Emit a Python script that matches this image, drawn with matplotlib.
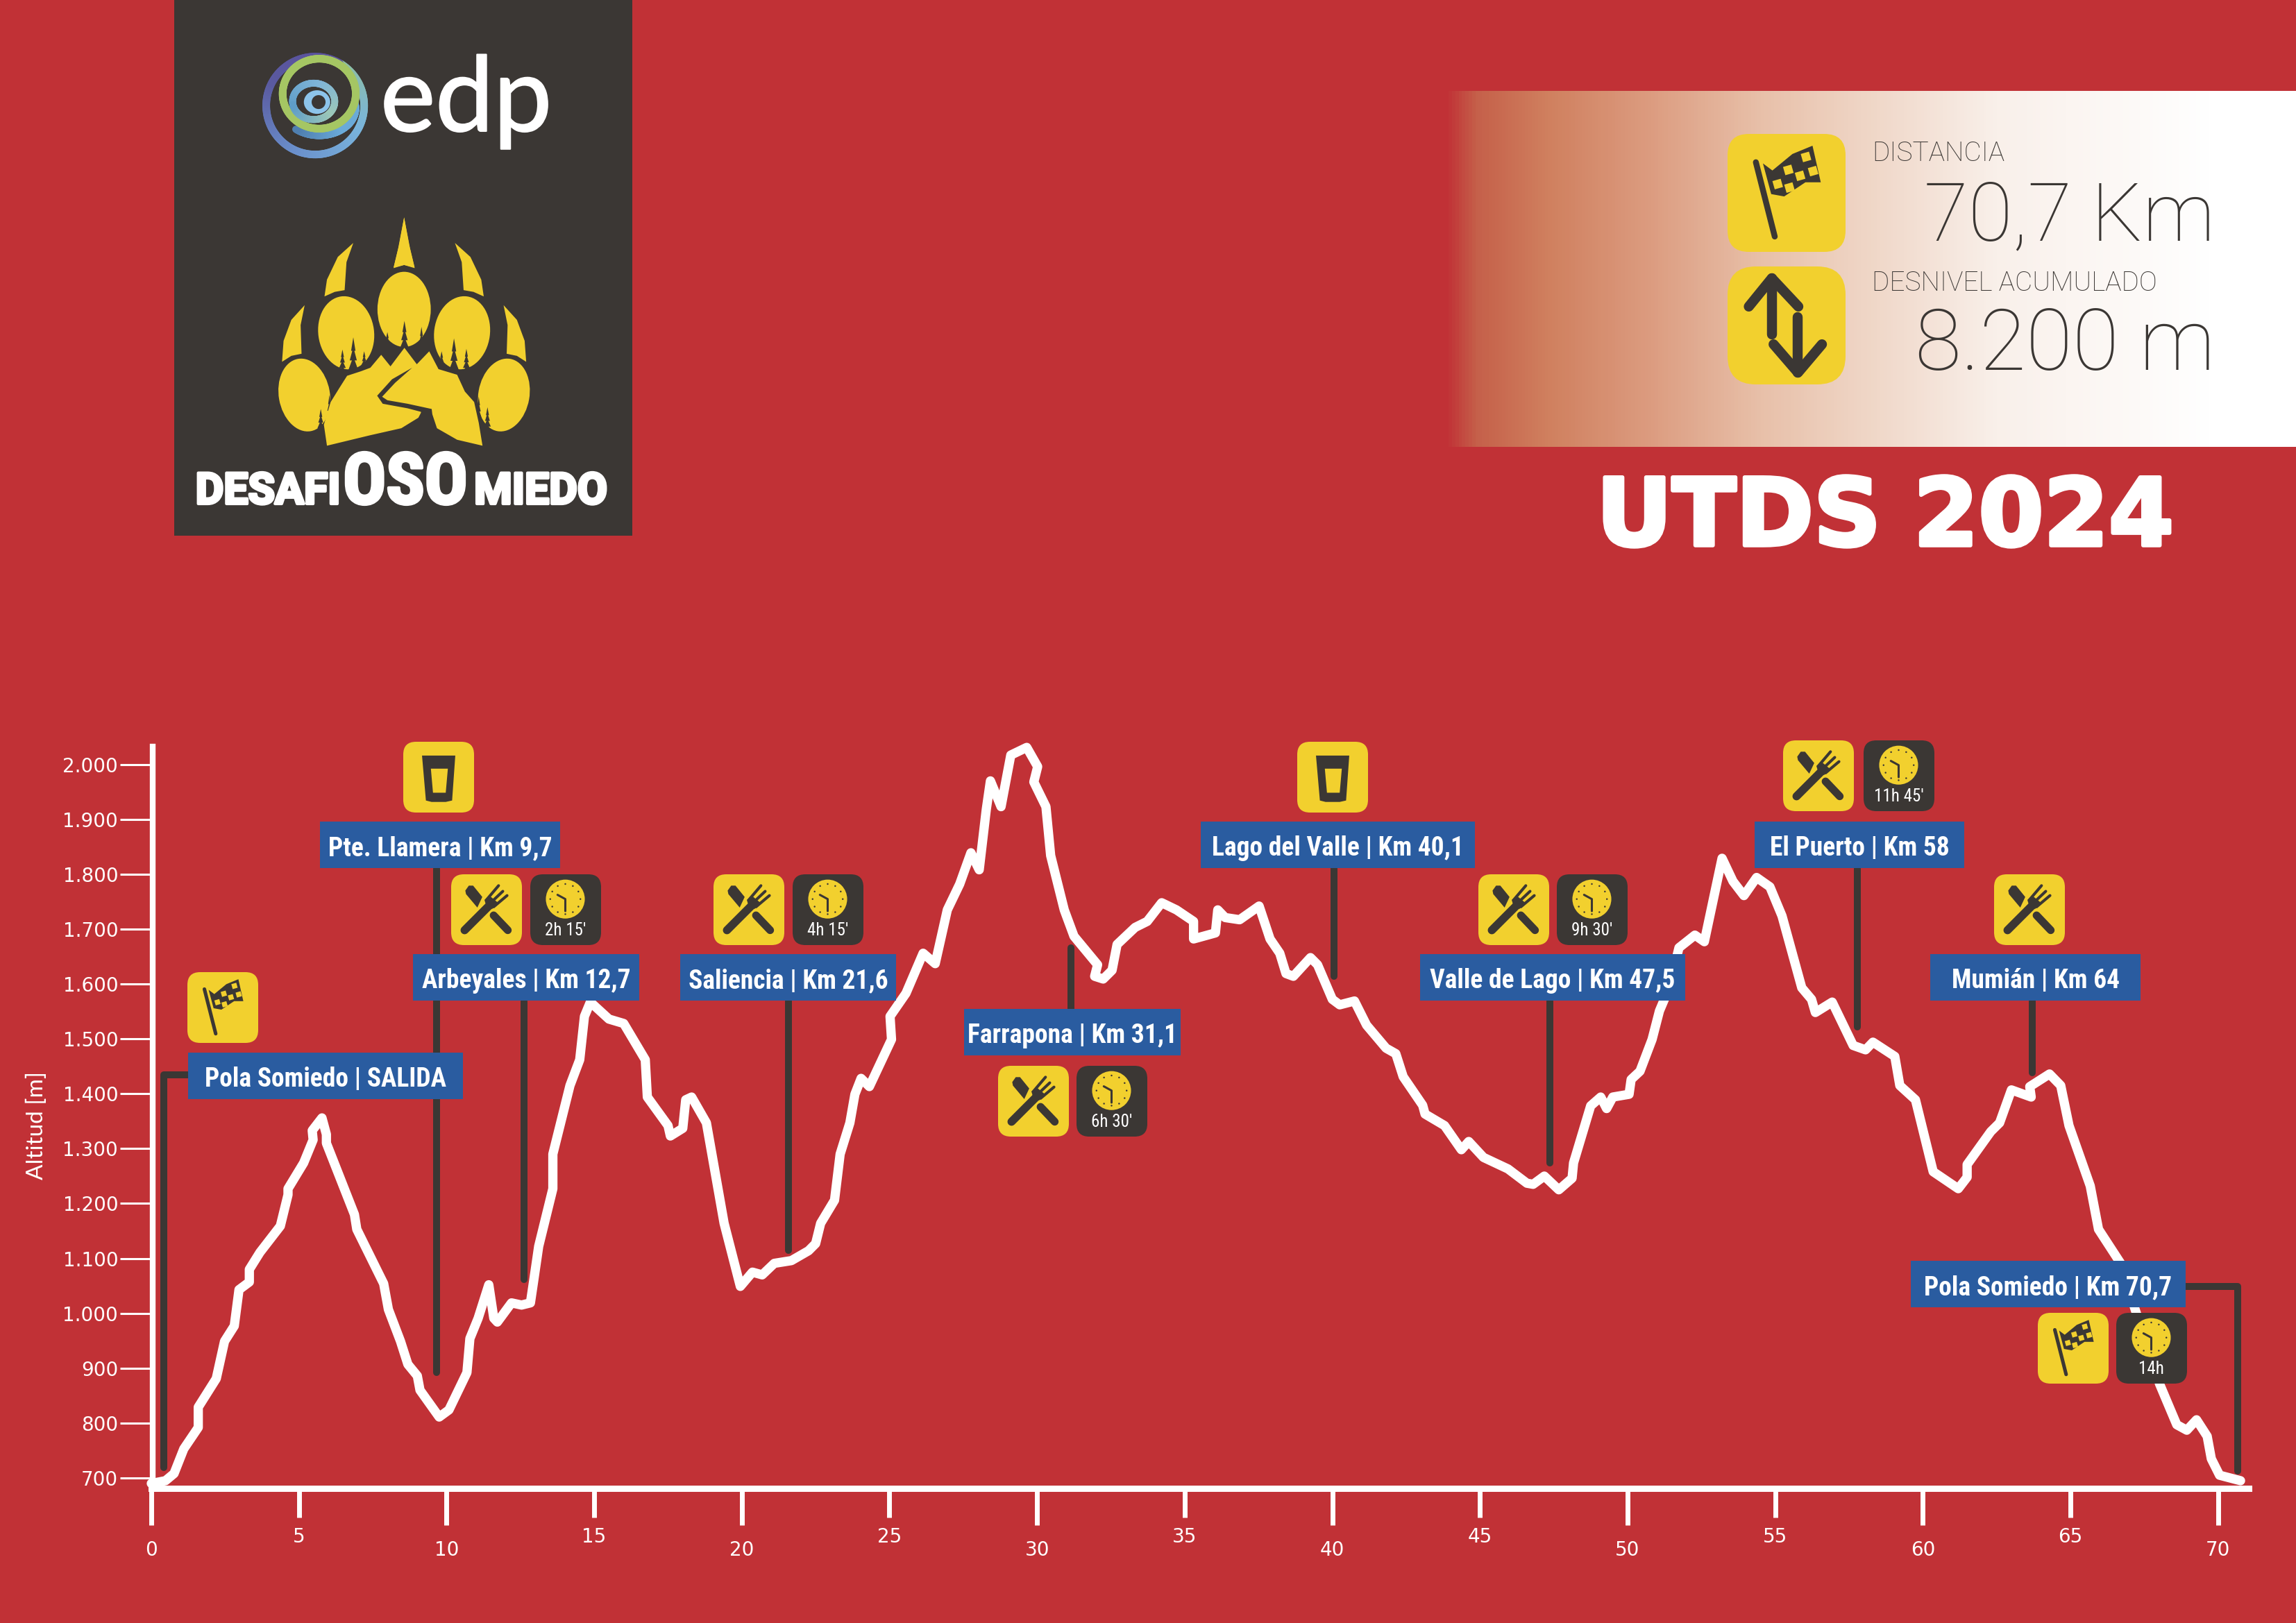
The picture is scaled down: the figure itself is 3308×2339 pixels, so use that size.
import matplotlib
matplotlib.use('Agg')
import numpy as np
import matplotlib.pyplot as plt
from matplotlib import font_manager
from matplotlib.collections import LineCollection
from matplotlib.colors import LinearSegmentedColormap
from matplotlib.patches import Circle, Ellipse, FancyBboxPatch, Polygon, Rectangle
from matplotlib.ticker import FuncFormatter
import matplotlib.patheffects as pe

RED = '#c13136'
BLUE = '#2a5ca0'
YELLOW = '#f2d02e'
DARK = '#3b3734'
WHITE = '#ffffff'

# altitude profile
profile_km = [0, 0.48, 0.77, 1.1, 1.59, 1.59, 2.2, 2.48, 2.81, 2.97, 3.32, 3.32, 3.68, 4.37, 4.63, 4.63,
              5.16, 5.48, 5.45, 5.78, 5.93, 5.93, 6.88, 6.96, 7.87, 8.03, 8.44, 8.69, 9.01, 9.1, 9.75,
              10.08, 10.69, 10.79, 11.07, 11.43, 11.6, 11.72, 12.2, 12.54, 12.84, 12.95, 13.12, 13.6, 13.6,
              14.18, 14.51, 14.67, 14.87, 15.5, 16.0, 16.73, 16.8, 17.5, 17.58, 18.0, 18.1, 18.3, 18.8,
              19.4, 19.95, 20.36, 20.69, 21.1, 21.68, 22.26, 22.5, 22.67, 23.14, 23.33, 23.66, 23.83,
              24.04, 24.32, 25.07, 25.02, 25.56, 26.14, 26.55, 26.96, 27.38, 27.76, 28.04, 28.28, 28.42,
              28.78, 29.11, 29.65, 30.02, 29.89, 30.3, 30.46, 30.92, 31.25, 32.05, 31.95, 32.24, 32.54,
              32.71, 33.32, 33.73, 34.22, 34.72, 35.3, 35.3, 36.04, 36.12, 36.37, 36.86, 37.52, 37.89,
              38.22, 38.43, 38.68, 39.26, 39.5, 40.0, 40.25, 40.75, 41.16, 41.82, 42.15, 42.4, 43.06,
              43.14, 43.8, 44.37, 44.62, 45.12, 45.95, 46.59, 46.8, 47.18, 47.67, 48.12, 48.17, 48.75,
              49.09, 49.29, 49.5, 50.05, 50.12, 50.42, 50.83, 51.08, 51.41, 51.74, 52.28, 52.6, 53.2,
              53.57, 53.94, 54.37, 54.82, 55.23, 55.9, 56.23, 56.36, 56.93, 57.64, 58.06, 58.31, 59.05,
              59.22, 59.75, 60.35, 61.2, 61.5, 61.5, 62.3, 62.6, 63.0, 63.67, 63.62, 64.29, 64.67, 64.95,
              65.67, 65.95, 66.7, 67.19, 68.02, 68.6, 68.94, 69.27, 69.63, 69.77, 70.05, 70.76]
profile_alt = [690, 695, 708, 753, 792, 829, 881, 949, 977, 1043, 1057, 1080, 1111, 1159, 1216, 1227,
               1274, 1316, 1333, 1356, 1326, 1310, 1180, 1153, 1054, 1007, 949, 907, 886, 860, 811,
               824, 892, 954, 991, 1052, 991, 984, 1019, 1015, 1019, 1059, 1122, 1227, 1290,
               1415, 1462, 1541, 1567, 1536, 1528, 1462, 1394, 1342, 1323, 1337, 1389, 1394, 1347,
               1164, 1049, 1075, 1070, 1091, 1096, 1114, 1127, 1164, 1206, 1290, 1347, 1399,
               1428, 1413, 1499, 1541, 1583, 1656, 1637, 1735, 1782, 1839, 1808, 1918, 1970,
               1923, 2017, 2031, 1996, 1968, 1923, 1834, 1735, 1687, 1635, 1614, 1609, 1625,
               1672, 1703, 1714, 1748, 1735, 1714, 1682, 1693, 1735, 1721, 1717, 1742, 1682,
               1656, 1619, 1614, 1648, 1635, 1572, 1562, 1569, 1525, 1483, 1473, 1431, 1379,
               1363, 1342, 1298, 1313, 1284, 1263, 1237, 1235, 1250, 1225, 1246, 1274, 1378,
               1394, 1373, 1394, 1399, 1426, 1441, 1499, 1551, 1593, 1666, 1689, 1677, 1829,
               1787, 1761, 1794, 1777, 1724, 1593, 1572, 1548, 1567, 1488, 1480, 1494, 1468,
               1415, 1389, 1258, 1227, 1248, 1271, 1331, 1347, 1407, 1394, 1413, 1436, 1415, 1342,
               1232, 1153, 1091, 1007, 871, 797, 787, 806, 776, 735, 705, 695]

long_ticks = [0, 10, 20, 30, 40, 50, 60, 70]
short_ticks = [5, 15, 25, 35, 45, 55, 65]
alt_ticks = [700, 800, 900, 1000, 1100, 1200, 1300, 1400, 1500, 1600, 1700, 1800, 1900, 2000]

# leader lines of the aid stations
stem_km = [9.67, 12.63, 21.58, 31.15, 40.05, 47.36, 57.77, 63.7]
stem_top = [1810, 1569, 1569, 1666, 1810, 1569, 1810, 1569]
stem_bottom = [892, 1061, 1114, 1550, 1614, 1274, 1522, 1438]
start_km = [0.43, 0.43, 1.25]
start_alt = [719, 1434, 1434]
finish_km = [68.9, 70.66, 70.66]
finish_alt = [1049, 1049, 713]

# label text, box in pixels
labels = ['Pola Somiedo | SALIDA', 'Pte. Llamera | Km 9,7', 'Arbeyales | Km 12,7', 'Saliencia | Km 21,6',
          'Farrapona | Km 31,1', 'Lago del Valle | Km 40,1', 'Valle de Lago | Km 47,5', 'El Puerto | Km 58',
          'Mumián | Km 64', 'Pola Somiedo | Km 70,7']
label_left = [271, 461, 595, 980, 1389, 1730, 2046, 2528, 2781, 2753]
label_right = [667, 807, 921, 1291, 1701, 2125, 2428, 2830, 3084, 3149]
label_top = [1517, 1184, 1375, 1375, 1454, 1184, 1375, 1184, 1375, 1817]

# icons: kind, left, top
icon_kind = ['flag', 'glass', 'food', 'food', 'food', 'glass', 'food', 'food', 'food', 'flag']
icon_left = [270, 581, 650, 1028, 1438, 1869, 2130, 2569, 2873, 2936]
icon_top = [1401, 1069, 1260, 1260, 1536, 1069, 1260, 1067, 1260, 1892]
clock_text = ['2h 15\'', '4h 15\'', '6h 30\'', '9h 30\'', '11h 45\'', '14h']
clock_left = [764, 1142, 1551, 2243, 2685, 3049]
clock_top = [1260, 1260, 1536, 1260, 1067, 1892]


def pick_font(names):
    for name in names:
        try:
            font_manager.findfont(name, fallback_to_default=False)
            return name
        except ValueError:
            pass
    return 'DejaVu Sans'


NARROW = pick_font(['Liberation Sans Narrow', 'Roboto Condensed', 'Open Sans Condensed', 'Roboto'])
label_size = 27 if NARROW != 'Roboto' else 20.5

fig = plt.figure(figsize=(33.08, 23.39), dpi=100, facecolor=RED)

# chart
ax = fig.add_axes([218 / 3308, (2339 - 2145) / 2339, (3240 - 218) / 3308, (2145 - 1070) / 2339])
ax.set_facecolor('none')
ax.set_xlim(0, 71.04)
ax.set_ylim(681, 2040)
for s in ['top', 'right']:
    ax.spines[s].set_visible(False)
ax.spines['left'].set_position(('data', 0.05))
ax.spines['left'].set_bounds(681, 2033)
ax.spines['left'].set_color(WHITE)
ax.spines['left'].set_linewidth(6)
ax.spines['bottom'].set_color(WHITE)
ax.spines['bottom'].set_linewidth(6.5)

for k, t, b in zip(stem_km, stem_top, stem_bottom):
    ax.plot([k, k], [t, b], color=DARK, lw=7.2, solid_capstyle='round', zorder=2)
ax.plot(start_km, start_alt, color=DARK, lw=7.2, solid_capstyle='round', solid_joinstyle='round', zorder=2)
ax.plot(finish_km, finish_alt, color=DARK, lw=7.2, solid_capstyle='round', solid_joinstyle='round', zorder=2)
ax.plot(profile_km, profile_alt, color=WHITE, lw=9.6, solid_joinstyle='round', solid_capstyle='round',
        clip_on=False, zorder=3)

ax.set_xticks(long_ticks)
ax.set_xticks(short_ticks, minor=True)
ax.set_xticklabels([str(v) for v in long_ticks])
ax.set_xticklabels([str(v) for v in short_ticks], minor=True)
ax.tick_params(axis='x', which='major', length=38, width=5, color=WHITE, labelcolor=WHITE, labelsize=20, pad=16)
ax.tick_params(axis='x', which='minor', length=30, width=5, color=WHITE, labelcolor=WHITE, labelsize=20, pad=10)
ax.set_yticks(alt_ticks)
ax.yaxis.set_major_formatter(FuncFormatter(lambda v, p: f'{int(v):,}'.replace(',', '.')))
ax.tick_params(axis='y', length=34, width=2.2, color=WHITE, labelcolor=WHITE, labelsize=20, pad=2)
ax.set_ylabel('Altitud [m]', color=WHITE, fontsize=24, family='Lato')
ax.yaxis.set_label_coords((68 - 218) / (3240 - 218), (2145 - 1622) / (2145 - 1070))

# overlay in pixel coordinates for logos, boxes and icons
px = fig.add_axes([0, 0, 1, 1])
px.set_facecolor('none')
px.axis('off')


def add_box(x, y, w, h, color, r):
    px.add_patch(FancyBboxPatch((x + r, y + r), w - 2 * r, h - 2 * r, boxstyle=f'round,pad={r}',
                                fc=color, ec='none', zorder=5))


def stroke(pts, color, width, z=6, cap='round'):
    xs, ys = zip(*pts)
    px.plot(xs, ys, color=color, lw=width * 0.72, solid_capstyle=cap, solid_joinstyle='round', zorder=z)


def draw_food(x, y, s=102):
    m = lambda pts: [(x + u * s, y + v * s) for u, v in pts]
    add_box(x, y, s, s, YELLOW, s * 0.18)
    stroke(m([(0.80, 0.79), (0.60, 0.58)]), DARK, s * 0.11)
    px.add_patch(Polygon(m([(0.20, 0.23), (0.25, 0.16), (0.31, 0.16), (0.44, 0.32), (0.37, 0.47), (0.21, 0.28)]),
                         fc=DARK, ec='none', zorder=6))
    stroke(m([(0.30, 0.68), (0.60, 0.38)]), YELLOW, s * 0.17, z=6.5)
    stroke(m([(0.19, 0.79), (0.55, 0.43)]), DARK, s * 0.115, z=7)
    px.add_patch(Polygon(m([(0.47, 0.36), (0.55, 0.31), (0.66, 0.40), (0.58, 0.49), (0.50, 0.46)]),
                         fc=DARK, ec='none', zorder=7))
    for a, b in [((0.50, 0.36), (0.67, 0.16)), ((0.55, 0.41), (0.73, 0.24)), ((0.60, 0.46), (0.79, 0.30))]:
        stroke(m([a, b]), DARK, s * 0.04, z=7)


def draw_glass(x, y, s=102):
    m = lambda pts: [(x + u * s, y + v * s) for u, v in pts]
    add_box(x, y, s, s, YELLOW, s * 0.18)
    px.add_patch(Polygon(m([(0.265, 0.195), (0.735, 0.195), (0.69, 0.83), (0.60, 0.85), (0.40, 0.85), (0.32, 0.83)]),
                         fc=DARK, ec='none', zorder=6))
    px.add_patch(Polygon(m([(0.39, 0.38), (0.63, 0.38), (0.60, 0.72), (0.42, 0.72)]),
                         fc=YELLOW, ec='none', zorder=7))


def draw_flag(x, y, s=102):
    m = lambda pts: [(x + u * s, y + v * s) for u, v in pts]
    add_box(x, y, s, s, YELLOW, s * 0.18)
    stroke(m([(0.24, 0.24), (0.40, 0.87)]), DARK, s * 0.05)
    px.add_patch(Polygon(m([(0.30, 0.25), (0.38, 0.31), (0.55, 0.17), (0.72, 0.10), (0.79, 0.41), (0.66, 0.41),
                            (0.48, 0.53), (0.37, 0.51)]), fc=DARK, ec='none', zorder=6))
    for u, v in [(0.62, 0.17), (0.47, 0.28), (0.57, 0.33), (0.68, 0.29), (0.38, 0.40), (0.48, 0.43)]:
        px.add_patch(Polygon(m([(u, v), (u + 0.07, v - 0.02), (u + 0.09, v + 0.05), (u + 0.02, v + 0.07)]),
                             fc=YELLOW, ec='none', zorder=7))


def draw_clock(x, y, text, s=102):
    add_box(x, y, s, s, DARK, s * 0.18)
    cx, cy = x + 0.495 * s, y + 0.35 * s
    px.add_patch(Circle((cx, cy), 0.275 * s, fc=YELLOW, ec='none', zorder=6))
    for a in np.arange(0, 360, 30):
        px.add_patch(Circle((cx + 0.213 * s * np.cos(np.radians(a)), cy + 0.213 * s * np.sin(np.radians(a))),
                            0.012 * s, fc=DARK, ec='none', zorder=7))
    stroke([(cx - 0.11 * s, cy - 0.06 * s), (cx, cy), (cx, cy + 0.17 * s)], DARK, 0.03 * s, z=7)
    px.text(cx, y + 0.79 * s, text, color=WHITE, family=NARROW, fontsize=18 if NARROW != 'Roboto' else 14.5,
            ha='center', va='center', zorder=7)


for kind, x, y in zip(icon_kind, icon_left, icon_top):
    {'flag': draw_flag, 'glass': draw_glass, 'food': draw_food}[kind](x, y)
for text, x, y in zip(clock_text, clock_left, clock_top):
    draw_clock(x, y, text)

for text, l, r, t in zip(labels, label_left, label_right, label_top):
    h = 67
    px.add_patch(Rectangle((l, t), r - l, h, fc=BLUE, ec='none', zorder=8))
    px.text((l + r) / 2, t + h / 2 + 5, text, color=WHITE, family=NARROW, fontweight='bold', fontsize=label_size,
            ha='center', va='center', zorder=9)

# logo panel
px.add_patch(Rectangle((251, 0), 660, 772, fc=DARK, ec='none', zorder=1))


def z4(pts):
    return [(230 + a / 2.24, b / 1.985) for a, b in pts]


def ring(cx, cy, rx, ry, a0, a1, stops, width, z):
    t = np.radians(np.linspace(a0, a1, 181))
    pts = np.array(z4(list(zip(cx + rx * np.cos(t), cy + ry * np.sin(t)))))
    segs = np.stack([pts[:-1], pts[1:]], axis=1)
    cmap = LinearSegmentedColormap.from_list('ring', stops)
    lc = LineCollection(segs, colors=cmap(np.linspace(0, 1, len(segs))), linewidths=width * 0.72,
                        capstyle='round', zorder=z)
    px.add_collection(lc)


ring(502, 302, 158, 140, -60, 300, ['#8fbfa0', '#79b4dc', '#6a8fcb', '#5a5aa0', '#5a4f9c'], 11, 2)
ring(515, 310, 118, 78, -10, 130, ['#6aaad8', '#6aaad8', '#4f7fb0'], 10, 2.5)
ring(515, 268, 118, 100, 0, 360, ['#a5c663', '#a5c663'], 11, 3)
ring(497, 290, 68, 52, 170, 530, ['#5f9dc8', '#7fb4d8', '#9cc8b8', '#5f9dc8'], 10, 3.2)
cx0, cy0 = z4([(508, 292)])[0]
px.add_patch(Ellipse((cx0, cy0), 38, 34, fc='#8dc4ea', ec='none', zorder=3.4))
cx1, cy1 = z4([(513, 292)])[0]
px.add_patch(Ellipse((cx1, cy1), 20, 20, fc=DARK, ec='none', zorder=3.5))
px.text(548, 189, 'edp', color=WHITE, family='Lato', fontsize=108, ha='left', va='baseline', zorder=3,
        path_effects=[pe.withStroke(linewidth=1.5, foreground=WHITE)])

# bear paw
toe_x = [467, 602, 789, 976, 1111]
toe_y = [1130, 952, 885, 952, 1130]
toe_w = [165, 180, 172, 180, 165]
toe_h = [210, 210, 215, 210, 210]
toe_a = [-10, -8, 0, 8, 10]
for tx, ty, tw, th, ta in zip(toe_x, toe_y, toe_w, toe_h, toe_a):
    c = z4([(tx, ty)])[0]
    px.add_patch(Ellipse(c, tw / 2.24, th / 1.985, angle=ta, fc=YELLOW, ec='none', zorder=2))
claws = [[(755, 765), (770, 710), (789, 622), (805, 700), (823, 767), (789, 758)],
         [(532, 848), (540, 800), (575, 735), (625, 695), (603, 750), (597, 830), (565, 835)],
         [(395, 1035), (400, 975), (425, 915), (468, 873), (455, 930), (458, 1012), (425, 1018)]]
for claw in claws:
    px.add_patch(Polygon(z4(claw), fc=YELLOW, ec='none', zorder=2))
    px.add_patch(Polygon(z4([(1578 - a, b) for a, b in claw]), fc=YELLOW, ec='none', zorder=2))
trees = [(735, 950, 1000, 26), (790, 918, 1010, 40), (845, 935, 1010, 28), (590, 1000, 1062, 30),
         (625, 965, 1075, 44), (660, 1005, 1052, 26), (910, 1005, 1058, 28), (950, 968, 1075, 44),
         (990, 998, 1062, 30), (520, 1170, 1235, 30), (548, 1130, 1205, 26), (578, 1105, 1155, 22),
         (605, 1065, 1115, 26), (1058, 1165, 1230, 30), (1030, 1135, 1205, 24), (985, 1085, 1125, 20)]
for tx, t0, t1, tw in trees:
    n = 4
    for i in range(n):
        a = t0 + (t1 - t0) * i / n
        b = t0 + (t1 - t0) * (i + 1.4) / n
        w = tw * (i + 1.6) / (n + 1)
        px.add_patch(Polygon(z4([(tx, a), (tx + w / 2, b), (tx - w / 2, b)]), fc=DARK, ec='none', zorder=2.2))
pad = [(540, 1275), (530, 1215), (552, 1150), (580, 1110), (605, 1075), (650, 1062), (680, 1052), (715, 1015),
       (745, 1048), (790, 995), (830, 1042), (870, 1005), (900, 1056), (960, 1072), (985, 1120), (1015, 1150),
       (1030, 1210), (1042, 1275), (960, 1258), (895, 1225), (880, 1185), (845, 1178), (835, 1195), (780, 1225),
       (680, 1245)]
px.add_patch(Polygon(z4(pad), fc=YELLOW, ec='none', zorder=2.3))
road = [(815, 1052), (750, 1085), (702, 1132), (720, 1155), (800, 1168), (843, 1178), (848, 1190), (880, 1185),
        (878, 1170), (800, 1155), (735, 1145), (718, 1135), (760, 1095)]
px.add_patch(Polygon(z4(road), fc=DARK, ec='none', zorder=2.4))

heavy = [pe.withStroke(linewidth=3, foreground=WHITE)]
px.text(386, 726, 'DESAFI', color=WHITE, family='Roboto', fontweight='bold', fontsize=45,
        ha='center', va='baseline', zorder=3, path_effects=heavy)
px.text(584, 726, 'OSO', color=WHITE, family=NARROW, fontweight='bold', fontsize=74,
        ha='center', va='baseline', zorder=3, path_effects=heavy)
px.text(779, 726, 'MIEDO', color=WHITE, family='Roboto', fontweight='bold', fontsize=45,
        ha='center', va='baseline', zorder=3, path_effects=heavy)

# summary band
band = LinearSegmentedColormap.from_list('band', [(0.0, RED), (0.035, '#c5604a'), (0.12, '#d0805f'),
                                                  (0.24, '#dc9c80'), (0.37, '#e8c0a9'), (0.49, '#efd5c5'),
                                                  (0.65, '#f9f0ea'), (0.9, WHITE), (1.0, WHITE)])
px.imshow(np.linspace(0, 1, 1226).reshape(1, -1), cmap=band, extent=(2082, 3308, 644, 131), aspect='auto', zorder=1)


def draw_arrows(x, y, s=170):
    m = lambda pts: [(x + u * s, y + v * s) for u, v in pts]
    add_box(x, y, s, s, YELLOW, s * 0.24)
    stroke(m([(0.375, 0.575), (0.375, 0.10)]), DARK, s * 0.085)
    stroke(m([(0.18, 0.34), (0.375, 0.10), (0.60, 0.34)]), DARK, s * 0.085)
    stroke(m([(0.597, 0.43), (0.597, 0.90)]), DARK, s * 0.085)
    stroke(m([(0.39, 0.66), (0.597, 0.90), (0.80, 0.66)]), DARK, s * 0.085)


draw_flag(2489, 193, 170)
draw_arrows(2489, 384)
px.text(2697, 232, 'DISTANCIA', color=DARK, family='Roboto', fontweight='light', fontsize=28, va='baseline', zorder=6)
px.text(3192, 346, '70,7 Km', color=DARK, family='Roboto', fontweight='light', fontsize=84, ha='right', va='baseline', zorder=6)
px.text(2697, 419, 'DESNIVEL ACUMULADO', color=DARK, family='Roboto', fontweight='light', fontsize=28, va='baseline', zorder=6)
px.text(3192, 533, '8.200 m', color=DARK, family='Roboto', fontweight='light', fontsize=88, ha='right', va='baseline', zorder=6)
px.text(2716, 786, 'UTDS 2024', color=WHITE, family='DejaVu Sans', fontweight='bold', fontsize=97,
        ha='center', va='baseline', zorder=6,
        path_effects=[pe.withStroke(linewidth=4, foreground=WHITE)])

px.set_xlim(0, 3308)
px.set_ylim(2339, 0)

fig.savefig('out.png', dpi=100, facecolor=RED)
